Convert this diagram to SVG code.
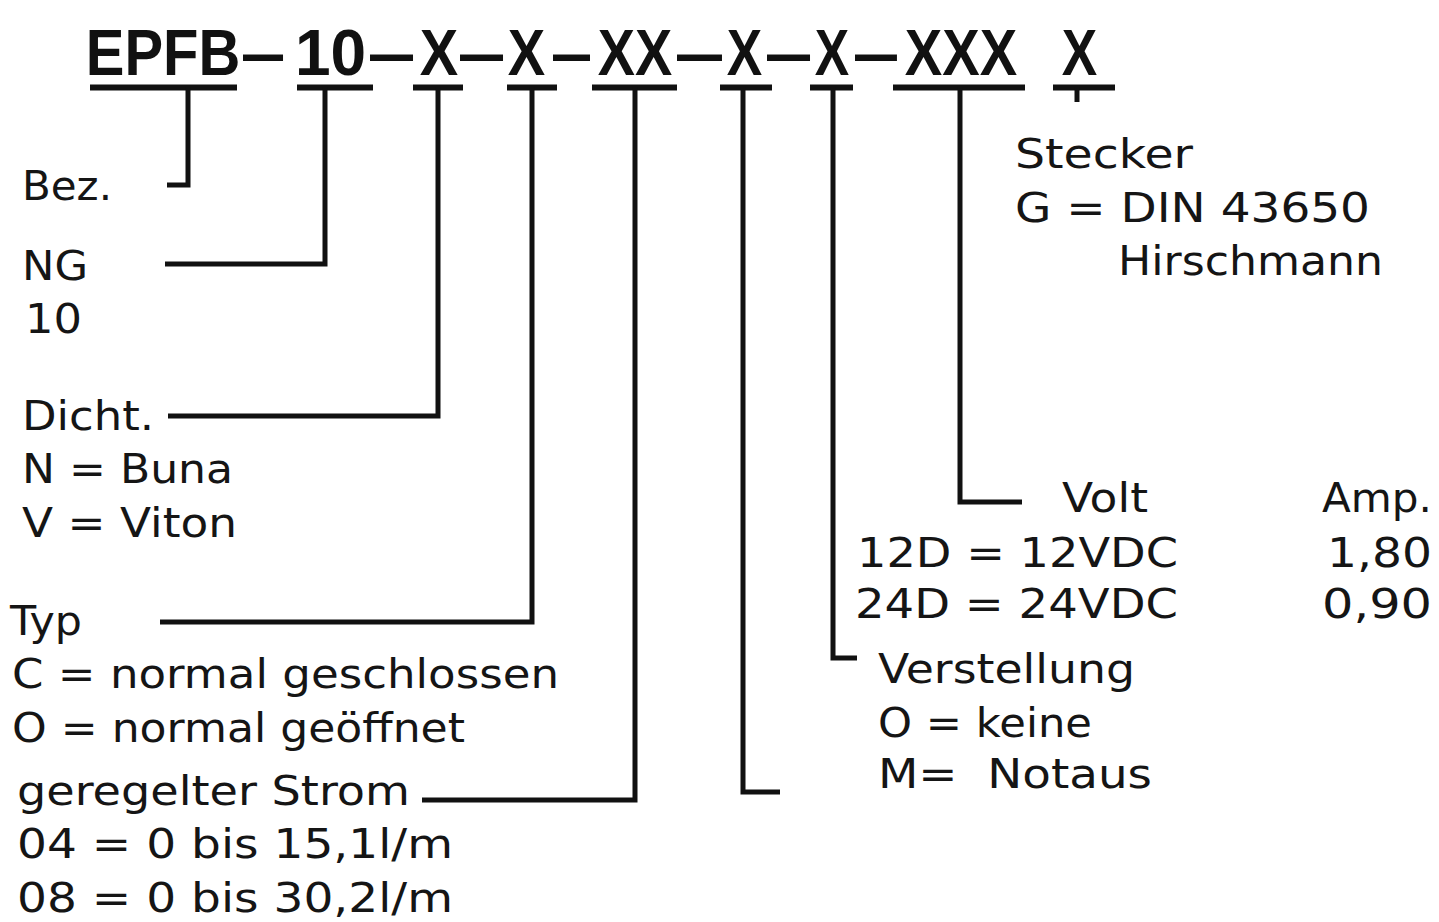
<svg xmlns="http://www.w3.org/2000/svg" width="1439" height="922" viewBox="0 0 1439 922">
<style>
.bg{fill:#ffffff}
.hd{font-family:"Liberation Sans","Arial",sans-serif;font-weight:bold;font-size:64px;fill:#111}
.t{font-family:"DejaVu Sans","Liberation Sans",sans-serif;font-size:41px;fill:#151515}
.ul{stroke:#111;stroke-width:6;fill:none}
.ln{stroke:#111;stroke-width:5;fill:none;stroke-linejoin:miter;stroke-linecap:butt}
</style>
<rect class="bg" x="0" y="0" width="1439" height="922"/>
<g id="code">
<text class="hd" transform="translate(85.8 75) scale(0.905 1)">EPFB</text>
<text class="hd" transform="translate(243 75) scale(0.625 1)">—</text>
<text class="hd" transform="translate(295 75) scale(1.0 1)">10</text>
<text class="hd" transform="translate(370 75) scale(0.672 1)">—</text>
<text class="hd" transform="translate(419.8 75) scale(0.9 1)">X</text>
<text class="hd" transform="translate(460 75) scale(0.672 1)">—</text>
<text class="hd" transform="translate(507.8 75) scale(0.877 1)">X</text>
<text class="hd" transform="translate(553 75) scale(0.578 1)">—</text>
<text class="hd" transform="translate(597.8 75) scale(0.872 1)">XX</text>
<text class="hd" transform="translate(677 75) scale(0.703 1)">—</text>
<text class="hd" transform="translate(726.8 75) scale(0.83 1)">X</text>
<text class="hd" transform="translate(767 75) scale(0.672 1)">—</text>
<text class="hd" transform="translate(814.8 75) scale(0.806 1)">X</text>
<text class="hd" transform="translate(855 75) scale(0.656 1)">—</text>
<text class="hd" transform="translate(904.8 75) scale(0.878 1)">XXX</text>
<text class="hd" transform="translate(1061.8 75) scale(0.83 1)">X</text>
</g>
<g id="connectors">
<path class="ul" d="M90 87.5H237M297 87.5H373M413 87.5H463M507 87.5H557M592 87.5H677M720 87.5H772M810 87.5H853M893 87.5H1025M1053 87.5H1115"/>
<path class="ln" d="M188 87V185H167"/>
<path class="ln" d="M325 87V264H165"/>
<path class="ln" d="M438 87V416H168"/>
<path class="ln" d="M532 87V622H160"/>
<path class="ln" d="M635 87V800H422"/>
<path class="ln" d="M743 87V792H780"/>
<path class="ln" d="M833 87V658H857"/>
<path class="ln" d="M960 87V502H1022"/>
<path class="ln" d="M1077 87V102"/>
</g>
<g id="bez">
<text class="t" x="22" y="200" textLength="90" lengthAdjust="spacingAndGlyphs">Bez.</text>
</g>
<g id="ng">
<text class="t" x="22" y="280" textLength="66" lengthAdjust="spacingAndGlyphs">NG</text>
<text class="t" x="25" y="333" textLength="57" lengthAdjust="spacingAndGlyphs">10</text>
</g>
<g id="dicht">
<text class="t" x="22" y="430" textLength="132" lengthAdjust="spacingAndGlyphs">Dicht.</text>
<text class="t" x="22" y="483" textLength="211" lengthAdjust="spacingAndGlyphs">N = Buna</text>
<text class="t" x="22" y="537" textLength="215" lengthAdjust="spacingAndGlyphs">V = Viton</text>
</g>
<g id="typ">
<text class="t" x="10" y="635" textLength="72" lengthAdjust="spacingAndGlyphs">Typ</text>
<text class="t" x="12" y="688" textLength="547" lengthAdjust="spacingAndGlyphs">C = normal geschlossen</text>
<text class="t" x="12" y="742" textLength="453" lengthAdjust="spacingAndGlyphs">O = normal geöffnet</text>
</g>
<g id="strom">
<text class="t" x="17" y="805" textLength="393" lengthAdjust="spacingAndGlyphs">geregelter Strom</text>
<text class="t" x="17" y="858" textLength="436" lengthAdjust="spacingAndGlyphs">04 = 0 bis 15,1l/m</text>
<text class="t" x="17" y="912" textLength="436" lengthAdjust="spacingAndGlyphs">08 = 0 bis 30,2l/m</text>
</g>
<g id="verstellung">
<text class="t" x="878" y="683" textLength="257" lengthAdjust="spacingAndGlyphs">Verstellung</text>
<text class="t" x="878" y="737" textLength="214" lengthAdjust="spacingAndGlyphs">O = keine</text>
<text class="t" x="878" y="788" textLength="274" lengthAdjust="spacingAndGlyphs" xml:space="preserve">M=  Notaus</text>
</g>
<g id="volt">
<text class="t" x="1062" y="512" textLength="86" lengthAdjust="spacingAndGlyphs">Volt</text>
<text class="t" x="857" y="567" textLength="321" lengthAdjust="spacingAndGlyphs">12D = 12VDC</text>
<text class="t" x="855" y="618" textLength="323" lengthAdjust="spacingAndGlyphs">24D = 24VDC</text>
<text class="t" x="1322" y="512" textLength="110" lengthAdjust="spacingAndGlyphs">Amp.</text>
<text class="t" x="1327" y="567" textLength="105" lengthAdjust="spacingAndGlyphs">1,80</text>
<text class="t" x="1322" y="618" textLength="110" lengthAdjust="spacingAndGlyphs">0,90</text>
</g>
<g id="stecker">
<text class="t" x="1015" y="168" textLength="178" lengthAdjust="spacingAndGlyphs">Stecker</text>
<text class="t" x="1015" y="222" textLength="355" lengthAdjust="spacingAndGlyphs">G = DIN 43650</text>
<text class="t" x="1118" y="275" textLength="265" lengthAdjust="spacingAndGlyphs">Hirschmann</text>
</g>
</svg>
